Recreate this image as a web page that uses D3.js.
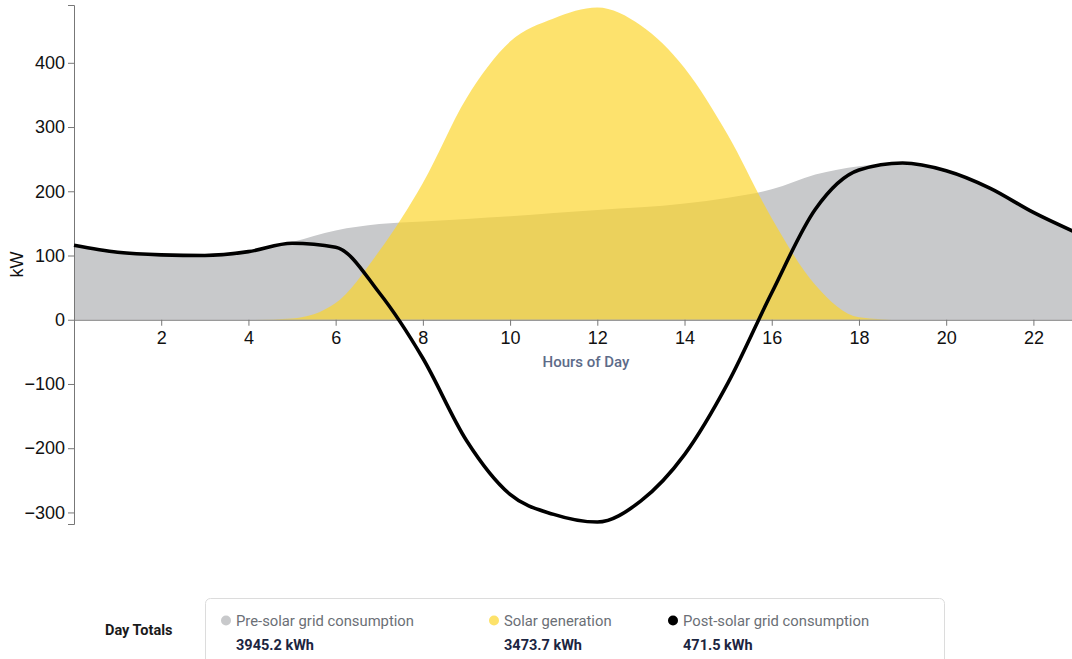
<!DOCTYPE html>
<html>
<head>
<meta charset="utf-8">
<script src="https://cdn.jsdelivr.net/npm/d3@7"></script>
<style>
  body { margin: 0; background: #fff; overflow: hidden; }
  svg { display: block; }
  .tick text { font-family: "Liberation Sans", Helvetica, Arial, sans-serif; font-size: 18px; fill: #111; }
  .tick line, .domain { stroke: #777; }
</style>
</head>
<body>
<div id="chart"></div>
<script>
// hourly readings, kW
let hours = d3.range(0, 24);
let preSolar = [116, 105, 101, 100, 106, 121, 139, 149, 153, 157, 161, 166, 171, 175, 181, 190, 203, 226, 239, 244, 232, 205, 167, 135];
let solar = [0, 0, 0, 0, 0, 2, 26, 107, 213, 345, 433, 469, 486, 458, 392, 287, 158, 54, 4, 0, 0, 0, 0, 0];
let postSolar = [116, 105, 101, 100, 106, 119, 113, 42, -60, -188, -272, -303, -315, -282, -210, -98, 42, 172, 233, 244, 232, 205, 167, 135];
let xTicks = [2, 4, 6, 8, 10, 12, 14, 16, 18, 20, 22];
let yTicks = [-300, -200, -100, 0, 100, 200, 300, 400];

// day totals shown under the chart
let legendNames = ["Pre-solar grid consumption", "Solar generation", "Post-solar grid consumption"];
let legendTotals = ["3945.2 kWh", "3473.7 kWh", "471.5 kWh"];
let legendColors = ["#c8c9cb", "#fde26a", "#000000"];

let width = 1072, height = 659;

let x = d3.scaleLinear().domain([0, 23]).range([74, 1077]);
let y = d3.scaleLinear().domain([-318, 490]).range([524, 5]);

let svg = d3.select("#chart").append("svg")
    .attr("width", width)
    .attr("height", height);

let area = (vals) => d3.area()
    .x((d, i) => x(hours[i]))
    .y0(y(0))
    .y1(d => y(d))
    .curve(d3.curveMonotoneX)(vals);

svg.append("path")
    .attr("d", area(preSolar))
    .attr("fill", "#c8c9cb");

svg.append("path")
    .attr("d", area(solar))
    .attr("fill", "rgb(252,212,40)")
    .attr("fill-opacity", 0.68);

// x axis sits on zero
svg.append("g")
    .attr("transform", `translate(0,${y(0)})`)
    .call(d3.axisBottom(x).tickValues(xTicks).tickSizeOuter(0))
    .call(g => g.selectAll(".tick text").attr("dy", "0.85em"));

svg.append("g")
    .attr("transform", `translate(${x(0)},0)`)
    .call(d3.axisLeft(y).tickValues(yTicks).tickSizeOuter(6));

svg.append("path")
    .datum(postSolar)
    .attr("d", d3.line()
        .x((d, i) => x(hours[i]))
        .y(d => y(d))
        .curve(d3.curveMonotoneX))
    .attr("fill", "none")
    .attr("stroke", "#000")
    .attr("stroke-width", 3.6)
    .attr("stroke-linejoin", "round");

svg.append("text")
    .attr("transform", `translate(23,${y(100) + 9}) rotate(-90)`)
    .attr("text-anchor", "middle")
    .style("font-family", "Liberation Sans, Arial, sans-serif")
    .style("font-size", "18px")
    .attr("fill", "#111")
    .text("kW");

svg.append("text")
    .attr("x", 586)
    .attr("y", 367)
    .attr("text-anchor", "middle")
    .style("font-family", "Roboto, sans-serif")
    .style("font-size", "15px")
    .style("font-weight", 500)
    .attr("fill", "#5d6b89")
    .text("Hours of Day");

// legend
let leg = svg.append("g").style("font-family", "Roboto, sans-serif");
leg.append("text")
    .attr("x", 105).attr("y", 635)
    .style("font-size", "14.5px").style("font-weight", 700)
    .attr("fill", "#1a1a1a")
    .text("Day Totals");
leg.append("rect")
    .attr("x", 205.5).attr("y", 598.5)
    .attr("width", 739).attr("height", 80)
    .attr("rx", 5)
    .attr("fill", "#fff")
    .attr("stroke", "#dcdcdc");

let itemX = [226, 494, 673];
legendNames.forEach((name, i) => {
    leg.append("circle")
        .attr("cx", itemX[i]).attr("cy", 620.5).attr("r", 5)
        .attr("fill", legendColors[i]);
    leg.append("text")
        .attr("x", itemX[i] + 10).attr("y", 626)
        .style("font-size", "14.8px")
        .attr("fill", "#6b6f76")
        .text(name);
    leg.append("text")
        .attr("x", itemX[i] + 10).attr("y", 650)
        .style("font-size", "14.5px").style("font-weight", 700)
        .attr("fill", "#1c2541")
        .text(legendTotals[i]);
});
</script>
</body>
</html>
